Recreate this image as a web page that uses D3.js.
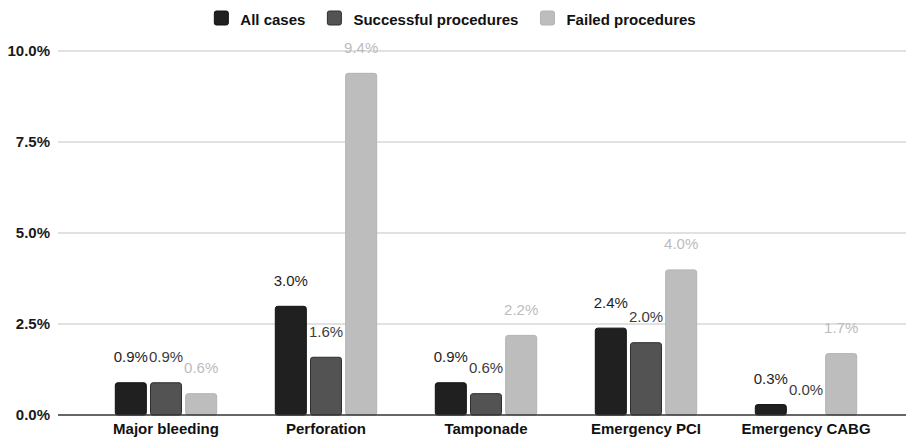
<!DOCTYPE html>
<html>
<head>
<meta charset="utf-8">
<script src="https://cdn.jsdelivr.net/npm/d3@7"></script>
<style>
  html, body { margin: 0; padding: 0; background: #fff; }
  svg { display: block; font-family: "Liberation Sans", Arial, sans-serif; }
</style>
</head>
<body>
<svg id="chart" width="906" height="442"></svg>
<script>
const categories = ["Major bleeding", "Perforation", "Tamponade", "Emergency PCI", "Emergency CABG"];
const seriesNames = ["All cases", "Successful procedures", "Failed procedures"];
const allCases = [0.9, 3.0, 0.9, 2.4, 0.3];
const successful = [0.9, 1.6, 0.6, 2.0, 0.0];
const failed = [0.6, 9.4, 2.2, 4.0, 1.7];
const yTicks = [0, 2.5, 5, 7.5, 10];

const seriesValues = [allCases, successful, failed];
const fills = ["#202020", "#535353", "#bdbdbd"];
const strokes = ["#111111", "#2e2e2e", "#b3b3b3"];
const labelColors = ["#1e1e1e", "#3c3c3c", "#bcbcbc"];

const svg = d3.select("#chart");
const W = 906, H = 442;
const gridLeft = 58, gridRight = 906;

const y = d3.scaleLinear().domain([0, 10]).range([415, 51]);
const x0 = d3.scaleBand().domain(categories).range([86, 886]).paddingInner(0.36).paddingOuter(0.18);
const x1 = d3.scaleBand().domain(seriesNames).range([0, x0.bandwidth()]).paddingInner(0.09).paddingOuter(0);

// gridlines
svg.append("g").selectAll("line").data(yTicks.filter(d => d > 0)).join("line")
  .attr("x1", gridLeft).attr("x2", gridRight)
  .attr("y1", d => y(d)).attr("y2", d => y(d))
  .attr("stroke", "#c4c4c4").attr("stroke-width", 1.2);

// y tick labels
svg.append("g").selectAll("text").data(yTicks).join("text")
  .attr("x", 50).attr("y", d => y(d)).attr("dy", "0.36em")
  .attr("text-anchor", "end")
  .attr("font-size", 15).attr("font-weight", "bold").attr("fill", "#1a1a1a")
  .text(d => d3.format(".1f")(d) + "%");

// bars
const data = [];
categories.forEach((c, i) => {
  seriesNames.forEach((s, j) => data.push({cat: c, ser: s, j, v: seriesValues[j][i]}));
});

const g = svg.append("g");
g.selectAll("rect").data(data.filter(d => d.v > 0)).join("rect")
  .attr("x", d => x0(d.cat) + x1(d.ser) + 0.5)
  .attr("y", d => y(d.v) + 0.5)
  .attr("width", x1.bandwidth() - 1)
  .attr("height", d => y(0) - y(d.v) - 0.5)
  .attr("rx", 2.5).attr("ry", 2.5)
  .attr("fill", d => fills[d.j])
  .attr("stroke", d => strokes[d.j]).attr("stroke-width", 1);

// baseline
svg.append("line")
  .attr("x1", gridLeft).attr("x2", gridRight)
  .attr("y1", y(0)).attr("y2", y(0))
  .attr("stroke", "#333").attr("stroke-width", 1.3);

// value labels
g.selectAll("text.val").data(data).join("text")
  .attr("class", "val")
  .attr("x", d => x0(d.cat) + x1(d.ser) + x1.bandwidth() / 2)
  .attr("y", d => y(d.v) - 20)
  .attr("text-anchor", "middle")
  .attr("font-size", 15)
  .attr("fill", d => labelColors[d.j])
  .text(d => d3.format(".1f")(d.v) + "%");

// category labels
svg.append("g").selectAll("text").data(categories).join("text")
  .attr("x", d => x0(d) + x0.bandwidth() / 2)
  .attr("y", 434)
  .attr("text-anchor", "middle")
  .attr("font-size", 15).attr("font-weight", "bold").attr("fill", "#111")
  .text(d => d);

// legend
const legend = svg.append("g");
const items = legend.selectAll("g").data(seriesNames).join("g");
items.append("rect")
  .attr("width", 14).attr("height", 14).attr("y", 11).attr("rx", 2)
  .attr("fill", (d, i) => fills[i]).attr("stroke", (d, i) => strokes[i]);
items.append("text")
  .attr("x", 26).attr("y", 25)
  .attr("font-size", 15).attr("font-weight", "bold").attr("fill", "#111")
  .text(d => d);
let widths = [];
items.each(function() { widths.push(26 + d3.select(this).select("text").node().getComputedTextLength()); });
const gap = 22;
const total = d3.sum(widths) + gap * (widths.length - 1);
let cx = (214 + 696) / 2 - total / 2;
items.attr("transform", (d, i) => {
  const t = `translate(${cx},0)`;
  cx += widths[i] + gap;
  return t;
});
</script>
</body>
</html>
